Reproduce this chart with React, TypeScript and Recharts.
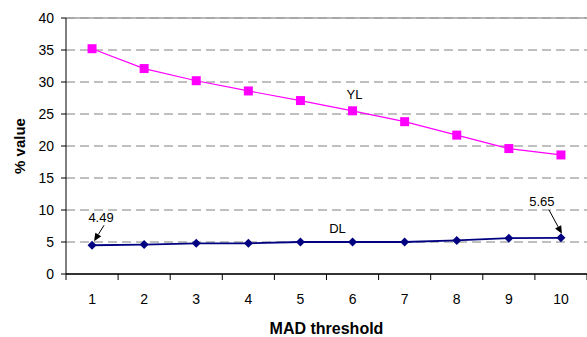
import React from "react";
import { CartesianGrid, Label, Line, LineChart, ReferenceLine, XAxis, YAxis } from "recharts";

const thresholds = [1, 2, 3, 4, 5, 6, 7, 8, 9, 10];
const ylValues = [35.2, 32.1, 30.2, 28.6, 27.1, 25.5, 23.8, 21.7, 19.6, 18.6];
const dlValues = [4.49, 4.6, 4.8, 4.8, 5.0, 5.0, 5.0, 5.25, 5.6, 5.65];
const yTicks = [0, 5, 10, 15, 20, 25, 30, 35, 40];
const xTicks = [0.5, 1, 1.5, 2, 2.5, 3, 3.5, 4, 4.5, 5, 5.5, 6, 6.5, 7, 7.5, 8, 8.5, 9, 9.5, 10, 10.5];

const data = thresholds.map((t, i) => ({ t, yl: ylValues[i], dl: dlValues[i] }));

const FONT = "'Liberation Sans', Arial, sans-serif";

function XTick(props: any) {
  const { x, y, payload } = props;
  const v = payload.value;
  if (Number.isInteger(v)) {
    return (
      <text x={x} y={y + 30} textAnchor="middle" fontSize={14} fontFamily={FONT} fill="#000">
        {v}
      </text>
    );
  }
  return <line x1={x} y1={y} x2={x} y2={y + 6} stroke="#000" strokeWidth={1} />;
}

function SquareDot(props: any) {
  const { cx, cy } = props;
  if (cx == null || cy == null) return null;
  return <rect x={cx - 4.5} y={cy - 4.5} width={9} height={9} fill="#ff00ff" />;
}

function DiamondDot(props: any) {
  const { cx, cy } = props;
  if (cx == null || cy == null) return null;
  return <polygon points={`${cx},${cy - 4.5} ${cx + 4.5},${cy} ${cx},${cy + 4.5} ${cx - 4.5},${cy}`} fill="#000080" />;
}

function arrow(x1: number, y1: number, x2: number, y2: number) {
  const a = Math.atan2(y2 - y1, x2 - x1);
  const len = 8;
  const w = 3.5;
  const bx = x2 - len * Math.cos(a);
  const by = y2 - len * Math.sin(a);
  const px = -Math.sin(a) * w;
  const py = Math.cos(a) * w;
  return (
    <g>
      <line x1={x1} y1={y1} x2={bx} y2={by} stroke="#000" strokeWidth={1} />
      <polygon points={`${x2},${y2} ${bx + px},${by + py} ${bx - px},${by - py}`} fill="#000" />
    </g>
  );
}

function DlLabel(props: any) {
  const { x, y, index, value } = props;
  if (index === 0) {
    return (
      <g>
        <text x={x + 9} y={y - 23} textAnchor="middle" fontSize={13} fontFamily={FONT} fill="#000">
          {value}
        </text>
        {arrow(x + 12, y - 20, x + 2, y - 4)}
      </g>
    );
  }
  if (index === 4) {
    return (
      <text x={x + 37} y={y - 9} textAnchor="middle" fontSize={13} fontFamily={FONT} fill="#000">
        DL
      </text>
    );
  }
  if (index === 9) {
    return (
      <g>
        <text x={x - 19} y={y - 32} textAnchor="middle" fontSize={13} fontFamily={FONT} fill="#000">
          {value}
        </text>
        {arrow(x - 12, y - 28, x + 1, y - 4)}
      </g>
    );
  }
  return null;
}

function YlLabel(props: any) {
  const { x, y, index } = props;
  if (index !== 5) return null;
  return (
    <text x={x + 2} y={y - 12} textAnchor="middle" fontSize={13} fontFamily={FONT} fill="#000">
      YL
    </text>
  );
}

export default function App() {
  return (
    <div style={{ position: "absolute", left: 0, top: 0, background: "#fff" }}>
      <LineChart width={587} height={337} data={data} margin={{ top: 18, right: 0, bottom: 0, left: 0 }}>
        <CartesianGrid horizontal vertical={false} stroke="#808080" strokeDasharray="9 5" />
        <ReferenceLine y={40} stroke="#a0a0a0" strokeWidth={1.5} />
        <XAxis
          dataKey="t"
          type="number"
          domain={[0.5, 10.5]}
          ticks={xTicks}
          interval={0}
          height={63}
          tickSize={0}
          tickMargin={0}
          tick={<XTick />}
          stroke="#333"
          strokeWidth={2}
        >
          <Label
            content={(p: any) => {
              const vb = p.viewBox;
              return (
                <text x={vb.x + vb.width / 2} y={vb.y + 60} textAnchor="middle" fontSize={16} fontWeight="bold" fontFamily={FONT} fill="#000">
                  MAD threshold
                </text>
              );
            }}
          />
        </XAxis>
        <YAxis
          domain={[0, 40]}
          ticks={yTicks}
          width={66}
          tickSize={5}
          tickMargin={7}
          stroke="#000"
          tick={{ fill: "#000", fontSize: 14, fontFamily: FONT }}
        >
          <Label
            content={(p: any) => {
              const vb = p.viewBox;
              const cx = vb.x + 19;
              const cy = vb.y + vb.height / 2;
              return (
                <text x={cx} y={cy} transform={`rotate(-90 ${cx} ${cy})`} textAnchor="middle" dominantBaseline="central" fontSize={15} fontWeight="bold" fontFamily={FONT} fill="#000">
                  % value
                </text>
              );
            }}
          />
        </YAxis>
        <Line
          dataKey="yl"
          stroke="#ff00ff"
          strokeWidth={1.2}
          dot={<SquareDot />}
          activeDot={false}
          label={<YlLabel />}
          isAnimationActive={false}
        />
        <Line
          dataKey="dl"
          stroke="#000080"
          strokeWidth={1.8}
          dot={<DiamondDot />}
          activeDot={false}
          label={<DlLabel />}
          isAnimationActive={false}
        />
      </LineChart>
    </div>
  );
}
